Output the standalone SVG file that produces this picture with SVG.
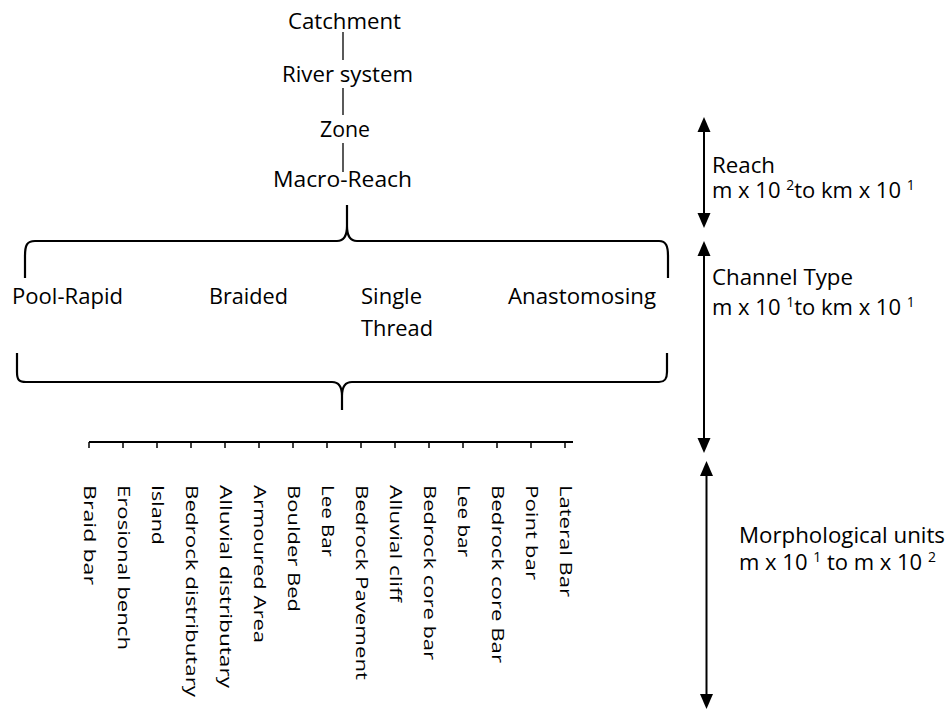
<svg xmlns="http://www.w3.org/2000/svg" width="950" height="709" viewBox="0 0 950 709">
<style>
text{font-family:"Open Sans","Noto Sans",sans-serif;font-size:22px;fill:#000}
.sup{font-size:14px}
.line{stroke:#000;stroke-width:1.3;fill:none}
.brace{stroke:#000;stroke-width:2.2;fill:none;stroke-linejoin:round}
.arrow{stroke:#000;stroke-width:2;fill:none}
.tick{stroke:#000;stroke-width:1.5}
.vlab{font-size:22px}
</style>
<defs>
<marker id="ah" markerUnits="userSpaceOnUse" markerWidth="16" markerHeight="14" refX="0" refY="6.5" orient="auto-start-reverse" viewBox="0 0 16 13">
<path d="M0,0 L15,6.5 L0,13 Z" fill="#000"/>
</marker>
</defs>
<rect width="950" height="709" fill="#fff"/>

<g id="connectors">
<line class="line" x1="343" y1="32" x2="343" y2="60"/>
<line class="line" x1="343" y1="88" x2="343" y2="115"/>
<line class="line" x1="343" y1="143" x2="343" y2="172"/>
<path class="brace" d="M25,278 L25,256 C25,245 27,241 35,241 L337,241 C344,241 347,236 347,226 L347,205 M347,226 C347,236 350,241 357,241 L659,241 C666,241 668,246 668,256 L668,278"/>
<path class="brace" d="M17,353 L17,372 C17,380 19,382 26,382 L332,382 C339,382 342,387 342,396 L342,410 M342,396 C342,387 345,382 352,382 L659,382 C665,382 667,379 667,372 L667,353"/>
<line class="arrow" x1="704" y1="132" x2="704" y2="213" marker-start="url(#ah)" marker-end="url(#ah)"/>
<line class="arrow" x1="704" y1="256" x2="704" y2="438" marker-start="url(#ah)" marker-end="url(#ah)"/>
<line class="arrow" x1="706.5" y1="476" x2="706.5" y2="694" marker-start="url(#ah)" marker-end="url(#ah)"/>
<line x1="89" y1="442" x2="573" y2="442" stroke="#000" stroke-width="2"/>
<g class="tick">
<line x1="89" y1="442" x2="89" y2="448"/><line x1="123" y1="442" x2="123" y2="448"/><line x1="157" y1="442" x2="157" y2="448"/><line x1="191" y1="442" x2="191" y2="448"/><line x1="225" y1="442" x2="225" y2="448"/><line x1="259" y1="442" x2="259" y2="448"/><line x1="293" y1="442" x2="293" y2="448"/><line x1="327" y1="442" x2="327" y2="448"/><line x1="361" y1="442" x2="361" y2="448"/><line x1="395" y1="442" x2="395" y2="448"/><line x1="429" y1="442" x2="429" y2="448"/><line x1="463" y1="442" x2="463" y2="448"/><line x1="497" y1="442" x2="497" y2="448"/><line x1="531" y1="442" x2="531" y2="448"/><line x1="565" y1="442" x2="565" y2="448"/>
</g>
</g>

<g id="catchment"><text x="288" y="29" textLength="113" lengthAdjust="spacingAndGlyphs">Catchment</text></g>
<g id="river-system"><text x="282" y="82" textLength="131" lengthAdjust="spacingAndGlyphs">River system</text></g>
<g id="zone"><text x="320" y="137" textLength="50" lengthAdjust="spacingAndGlyphs">Zone</text></g>
<g id="macro-reach"><text x="273" y="187" textLength="139" lengthAdjust="spacingAndGlyphs">Macro-Reach</text></g>

<g id="pool-rapid"><text x="12" y="304" textLength="111" lengthAdjust="spacingAndGlyphs">Pool-Rapid</text></g>
<g id="braided"><text x="209" y="304" textLength="79" lengthAdjust="spacingAndGlyphs">Braided</text></g>
<g id="single-thread"><text x="361" y="304" textLength="61" lengthAdjust="spacingAndGlyphs">Single</text><text x="361" y="336" textLength="72" lengthAdjust="spacingAndGlyphs">Thread</text></g>
<g id="anastomosing"><text x="508" y="304" textLength="148" lengthAdjust="spacingAndGlyphs">Anastomosing</text></g>

<g id="reach"><text x="712" y="173" textLength="63" lengthAdjust="spacingAndGlyphs">Reach</text>
<text x="712" y="198">m x 10 <tspan class="sup" dy="-8">2</tspan><tspan dy="8">to km x 10 </tspan><tspan class="sup" dy="-8">1</tspan></text></g>
<g id="channel-type"><text x="712" y="285" textLength="141" lengthAdjust="spacingAndGlyphs">Channel Type</text>
<text x="712" y="315">m x 10 <tspan class="sup" dy="-8">1</tspan><tspan dy="8">to km x 10 </tspan><tspan class="sup" dy="-8">1</tspan></text></g>
<g id="morphological-units"><text x="739" y="543" textLength="206" lengthAdjust="spacingAndGlyphs">Morphological units</text>
<text x="739" y="570">m x 10 <tspan class="sup" dy="-8">1</tspan><tspan dy="8"> to m x 10 </tspan><tspan class="sup" dy="-8">2</tspan></text></g>

<g id="units">
<g id="u1"><text class="vlab" transform="translate(84,485) rotate(90) scale(1,0.72)" textLength="100" lengthAdjust="spacingAndGlyphs">Braid bar</text></g>
<g id="u2"><text class="vlab" transform="translate(118,485) rotate(90) scale(1,0.72)" textLength="165" lengthAdjust="spacingAndGlyphs">Erosional bench</text></g>
<g id="u3"><text class="vlab" transform="translate(152,485) rotate(90) scale(1,0.72)" textLength="60" lengthAdjust="spacingAndGlyphs">Island</text></g>
<g id="u4"><text class="vlab" transform="translate(186,485) rotate(90) scale(1,0.72)" textLength="212" lengthAdjust="spacingAndGlyphs">Bedrock distributary</text></g>
<g id="u5"><text class="vlab" transform="translate(220,485) rotate(90) scale(1,0.72)" textLength="203" lengthAdjust="spacingAndGlyphs">Alluvial distributary</text></g>
<g id="u6"><text class="vlab" transform="translate(254,485) rotate(90) scale(1,0.72)" textLength="158" lengthAdjust="spacingAndGlyphs">Armoured Area</text></g>
<g id="u7"><text class="vlab" transform="translate(288,485) rotate(90) scale(1,0.72)" textLength="127" lengthAdjust="spacingAndGlyphs">Boulder Bed</text></g>
<g id="u8"><text class="vlab" transform="translate(322,485) rotate(90) scale(1,0.72)" textLength="72" lengthAdjust="spacingAndGlyphs">Lee Bar</text></g>
<g id="u9"><text class="vlab" transform="translate(356,485) rotate(90) scale(1,0.72)" textLength="195" lengthAdjust="spacingAndGlyphs">Bedrock Pavement</text></g>
<g id="u10"><text class="vlab" transform="translate(390,485) rotate(90) scale(1,0.72)" textLength="117" lengthAdjust="spacingAndGlyphs">Alluvial cliff</text></g>
<g id="u11"><text class="vlab" transform="translate(424,485) rotate(90) scale(1,0.72)" textLength="175" lengthAdjust="spacingAndGlyphs">Bedrock core bar</text></g>
<g id="u12"><text class="vlab" transform="translate(458,485) rotate(90) scale(1,0.72)" textLength="72" lengthAdjust="spacingAndGlyphs">Lee bar</text></g>
<g id="u13"><text class="vlab" transform="translate(492,485) rotate(90) scale(1,0.72)" textLength="178" lengthAdjust="spacingAndGlyphs">Bedrock core Bar</text></g>
<g id="u14"><text class="vlab" transform="translate(526,485) rotate(90) scale(1,0.72)" textLength="95" lengthAdjust="spacingAndGlyphs">Point bar</text></g>
<g id="u15"><text class="vlab" transform="translate(560,485) rotate(90) scale(1,0.72)" textLength="112" lengthAdjust="spacingAndGlyphs">Lateral Bar</text></g>
</g>
</svg>
